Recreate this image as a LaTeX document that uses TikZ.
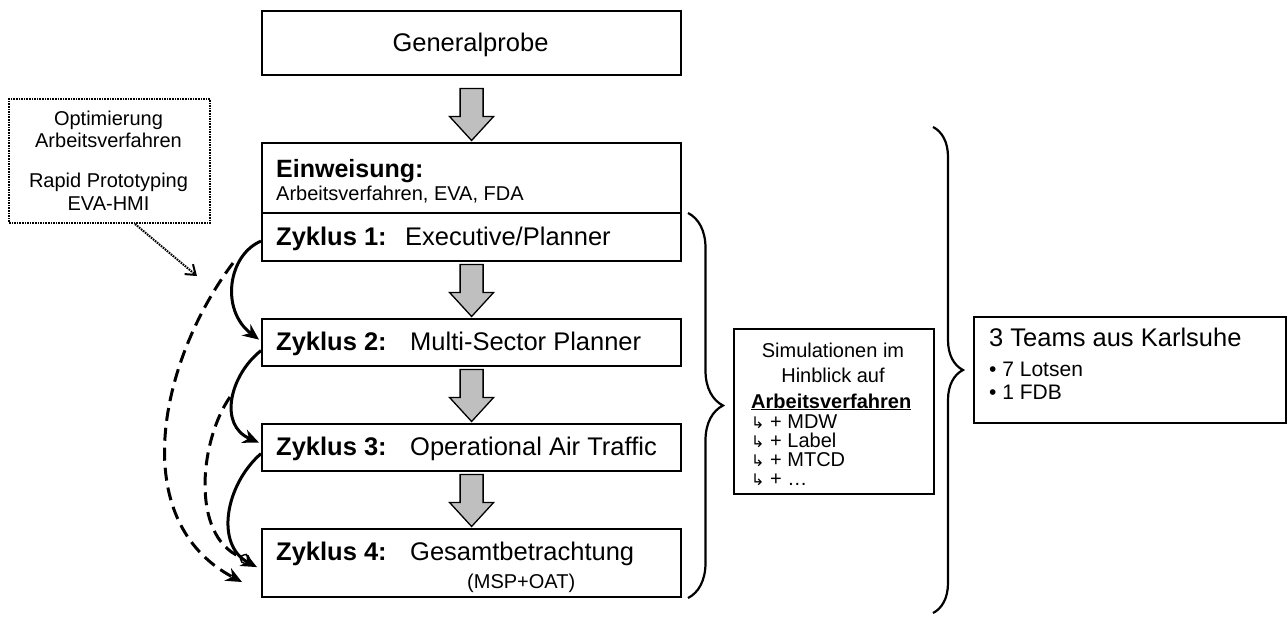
\documentclass[tikz,border=0pt]{standalone}
\usepackage{fontspec}
\setmainfont{Liberation Sans}
\newfontfamily\symfont{DejaVu Sans}
\usetikzlibrary{arrows.meta,calc,decorations.pathreplacing}

\newcommand\fs[1]{\fontsize{#1}{#1}\selectfont}
\newcommand\hook{{\symfont\fs{16}↳}}

% grey block arrow ending just above the north side of a node
\newcommand\flowarrow[1]{%
  \filldraw[flowfill]
    ($(#1.north)+(-11.5pt,53.5pt)$) -- ($(#1.north)+(11.5pt,53.5pt)$) --
    ($(#1.north)+(11.5pt,25.5pt)$) -- ($(#1.north)+(22pt,25.5pt)$) --
    ($(#1.north)+(0pt,1.5pt)$) -- ($(#1.north)+(-22pt,25.5pt)$) --
    ($(#1.north)+(-11.5pt,25.5pt)$) -- cycle;}

\begin{document}
\begin{tikzpicture}[x=1pt,y=-1pt,
  box/.style={draw, line width=2.2pt, inner sep=0pt, anchor=north west, minimum width=419pt},
  thinbox/.style={draw, line width=1.6pt, inner sep=0pt, anchor=north west},
  txt/.style={inner sep=0pt, anchor=base west},
  ctxt/.style={inner sep=0pt, anchor=base},
  flowfill/.style={fill=black!25, draw=black, line width=1.3pt, line join=miter},
  bracestyle/.style={draw, line width=2.2pt, decorate},
  loop/.style={line width=3pt, -{Stealth[length=16pt,width=14pt,inset=5pt]}},
  back/.style={line width=3pt, dash pattern=on 13pt off 7pt},
  note/.style={line width=2pt, dash pattern=on 1.6pt off 1pt}]

\useasboundingbox (0,0) rectangle (1287,616);

% main column of boxes
\node[box, minimum height=64pt] (gp) at (261,10) {};
\node[box, minimum height=70pt] (ein) at (261,142) {};
\node[box, minimum height=48pt] (z1) at (261,212) {};
\node[box, minimum height=47pt] (z2) at (261,318) {};
\node[box, minimum height=47pt] (z3) at (261,423) {};
\node[box, minimum height=68pt] (z4) at (261,528) {};

\node[ctxt, font=\fs{25.5}] (gpt) at (470.5,51) {Generalprobe};
\node[txt, font=\fs{25}\bfseries] (eint) at (276,177) {Einweisung:};
\node[txt, font=\fs{20}] (eins) at (276,200) {Arbeitsverfahren, EVA, FDA};
\node[txt, font=\fs{25.5}] (z1t) at (276,245) {\makebox[129pt][l]{\bfseries Zyklus 1:}Executive/Planner};
\node[txt, font=\fs{25.5}] (z2t) at (276,350) {\makebox[134pt][l]{\bfseries Zyklus 2:}Multi-Sector Planner};
\node[txt, font=\fs{25.5}] (z3t) at (276,455) {\makebox[134pt][l]{\bfseries Zyklus 3:}Operational Air Traffic};
\node[txt, font=\fs{25.5}] (z4t) at (276,560) {\makebox[134pt][l]{\bfseries Zyklus 4:}Gesamtbetrachtung};
\node[txt, font=\fs{20}] (z4s) at (467,588) {(MSP+OAT)};

% grey flow arrows
\flowarrow{ein}
\flowarrow{z2}
\flowarrow{z3}
\flowarrow{z4}

% note box on the left
\node[note, draw, inner sep=0pt, anchor=north west, minimum width=201pt, minimum height=124pt] (opt) at (8,98) {};
\node[ctxt, font=\fs{20}] (opt1) at (108.5,125) {Optimierung};
\node[ctxt, font=\fs{20}] (opt2) at (108.5,147) {Arbeitsverfahren};
\node[ctxt, font=\fs{20}] (opt3) at (108.5,187) {Rapid Prototyping};
\node[ctxt, font=\fs{20}] (opt4) at (108.5,210) {EVA-HMI};
\coordinate (optend) at (197,276);
\draw[note, -{Straight Barb[length=9pt,width=13pt]}] ($(opt.south west)+(127pt,0)$) -- (optend);

% iteration loops
\coordinate (d1s) at (233,263);
\coordinate (d1e) at (242,582);
\coordinate (d2s) at (230,397);
\draw[back, -{Stealth[length=16pt,width=14pt,inset=5pt]}] (d1s) .. controls (160,360) and (125,520) .. (d1e);
\node[circle, draw, fill=white, line width=1.4pt, minimum size=9pt, inner sep=0pt] (ring) at (245,559) {};
\draw[back] (d2s) .. controls (200,440) and (190,535) .. (ring);

\draw[loop] ($(z1.west)+(0,-4pt)$) .. controls (228,255) and (220,310) .. ($(z2.west)+(-2pt,3pt)$);
\draw[loop] ($(z2.west)+(0,-8pt)$) .. controls (230,375) and (218,425) .. ($(z3.west)+(-2pt,5pt)$);
\draw[loop] ($(z3.west)+(0,-6pt)$) .. controls (225,485) and (215,545) .. ($(z4.west)+(-4pt,-4pt)$);

% braces
\draw[bracestyle, decoration={brace, amplitude=35pt}] (688,213) -- (688,598);
\draw[bracestyle, decoration={brace, amplitude=30pt}] (933,127) -- (933,613);

% simulation box
\node[thinbox, minimum width=200pt, minimum height=165pt] (sim) at (733,328) {};
\node[ctxt, font=\fs{20}] (sim1) at (833,357) {Simulationen im};
\node[ctxt, font=\fs{20}] (sim2) at (833,382) {Hinblick auf};
\node[txt, font=\fs{20}\bfseries] (sim3) at (751,408) {\underline{Arbeitsverfahren}};
\node[txt, font=\fs{20}] (sim4) at (751,428) {\hook\ + MDW};
\node[txt, font=\fs{20}] (sim5) at (751,447) {\hook\ + Label};
\node[txt, font=\fs{20}] (sim6) at (751,466) {\hook\ + MTCD};
\node[txt, font=\fs{20}] (sim7) at (751,485) {\hook\ + …};

% teams box
\node[thinbox, minimum width=312pt, minimum height=106pt] (team) at (973,316) {};
\node[txt, font=\fs{25.5}] (team1) at (989,346) {3 Teams aus Karlsuhe};
\node[txt, font=\fs{21}] (team2) at (989,376) {• 7 Lotsen};
\node[txt, font=\fs{21}] (team3) at (989,399) {• 1 FDB};
\end{tikzpicture}
\end{document}
